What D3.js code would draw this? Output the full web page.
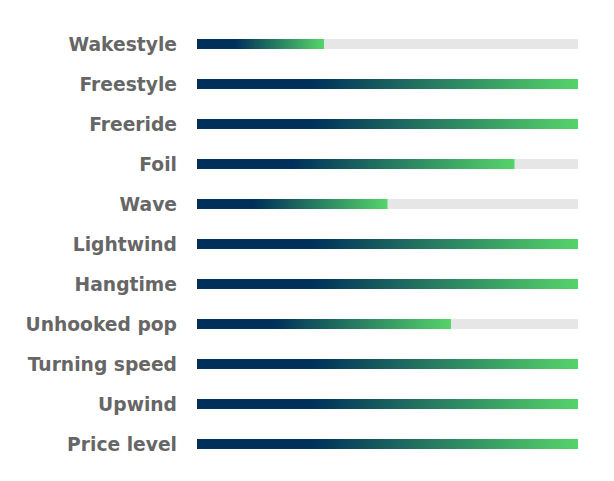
<!DOCTYPE html>
<html>
<head>
<meta charset="utf-8">
<script src="https://cdn.jsdelivr.net/npm/d3@7"></script>
<style>
body { margin: 0; background: #fff; }
</style>
</head>
<body>
<div id="chart"></div>
<script>
// ratings on a 0..6 scale
var categories = ["Wakestyle", "Freestyle", "Freeride", "Foil", "Wave", "Lightwind",
  "Hangtime", "Unhooked pop", "Turning speed", "Upwind", "Price level"];
var values = [2, 6, 6, 5, 3, 6, 6, 4, 6, 6, 6];
var maxValue = 6;

var width = 614, height = 481;
var margin = {top: 24, right: 36, bottom: 17, left: 197};

var svg = d3.select("#chart")
  .append("svg")
  .attr("width", width)
  .attr("height", height);

var defs = svg.append("defs");
var grad = defs.append("linearGradient")
  .attr("id", "barGrad")
  .attr("x1", "0%").attr("x2", "100%")
  .attr("y1", "0%").attr("y2", "0%");
grad.append("stop").attr("offset", "0%").attr("stop-color", "#00305a");
grad.append("stop").attr("offset", "30%").attr("stop-color", "#00305a");
grad.append("stop").attr("offset", "100%").attr("stop-color", "#55d46a");

var x = d3.scaleLinear()
  .domain([0, maxValue])
  .range([margin.left, width - margin.right]);

var y = d3.scaleBand()
  .domain(categories)
  .range([margin.top, margin.top + 40 * categories.length])
  .paddingInner(0.75)
  .paddingOuter(0.375);

var barH = y.bandwidth();

// background tracks
svg.selectAll(".track")
  .data(categories)
  .enter()
  .append("rect")
  .attr("class", "track")
  .attr("x", x(0))
  .attr("y", function(d) { return y(d); })
  .attr("width", x(maxValue) - x(0))
  .attr("height", barH)
  .attr("fill", "#e6e6e6");

// value bars
svg.selectAll(".bar")
  .data(values)
  .enter()
  .append("rect")
  .attr("class", "bar")
  .attr("x", x(0))
  .attr("y", function(d, i) { return y(categories[i]); })
  .attr("width", function(d) { return x(d) - x(0); })
  .attr("height", barH)
  .attr("fill", "url(#barGrad)");

// labels
svg.selectAll(".label")
  .data(categories)
  .enter()
  .append("text")
  .attr("class", "label")
  .attr("x", 177)
  .attr("y", function(d) { return y(d) + barH / 2; })
  .attr("dy", "0.35em")
  .attr("text-anchor", "end")
  .style("font-family", "'DejaVu Sans', sans-serif")
  .style("font-weight", "bold")
  .style("font-size", "18.7px")
  .style("fill", "#666666")
  .text(function(d) { return d; });
</script>
</body>
</html>
